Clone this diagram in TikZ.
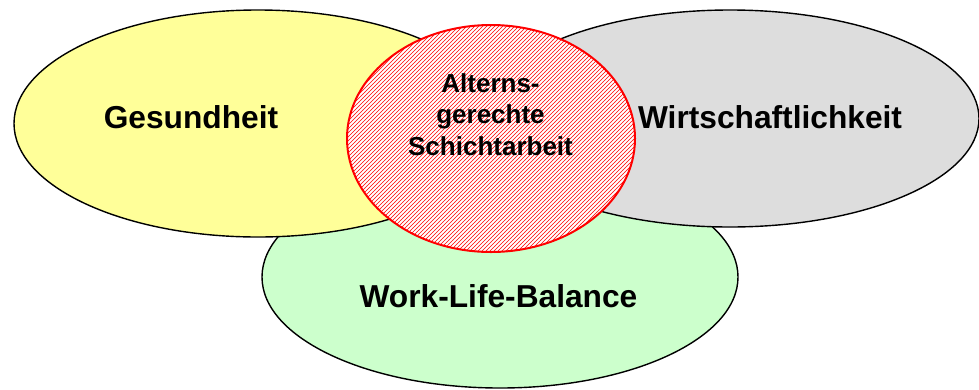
\documentclass[tikz,border=0pt]{standalone}
\usepackage{fontspec}
\setmainfont{Liberation Sans}
\usetikzlibrary{shapes.geometric,patterns.meta}
\definecolor{ellyellow}{HTML}{FFFF99}
\definecolor{ellgray}{HTML}{DDDDDD}
\definecolor{ellgreen}{HTML}{CCFFCC}
\definecolor{hatchred}{HTML}{FF0000}
\begin{document}
\begin{tikzpicture}[x=1pt,y=-1pt,
  setell/.style={ellipse, draw=black, line width=1.4pt, inner sep=0pt, outer sep=0pt},
  coreell/.style={ellipse, draw=hatchred, line width=2pt, inner sep=0pt, outer sep=0pt,
    preaction={fill=white},
    pattern={Lines[angle=45,distance=2.8284pt,line width=0.7pt]}, pattern color=hatchred},
  biglabel/.style={font=\fontsize{31.7}{38}\selectfont\bfseries, inner sep=0pt, anchor=base},
  smalllabel/.style={font=\fontsize{26}{31.5}\selectfont\bfseries, inner sep=0pt, anchor=base}
]
\useasboundingbox (0,0) rectangle (979,389);
% ellipses
\node[setell, fill=ellgreen, minimum width=476pt, minimum height=222pt] (wlb) at (500,277) {};
\node[setell, fill=ellyellow, minimum width=488pt, minimum height=227pt] (ges) at (258,123.5) {};
\node[setell, fill=ellgray, minimum width=498pt, minimum height=217pt] (wir) at (730,118.5) {};
\node[coreell, minimum width=288pt, minimum height=227pt] (core) at (491,138.5) {};
% labels
\node[biglabel] (tges) at (191,128) {Gesundheit};
\node[biglabel] (twir) at (770,128) {Wirtschaftlichkeit};
\node[biglabel] (twlb) at (498.5,307) {Work-Life-Balance};
\node[smalllabel] (tc1) at (490.5,92) {Alterns-};
\node[smalllabel] (tc2) at (490.5,123.5) {gerechte};
\node[smalllabel] (tc3) at (490.5,155) {Schichtarbeit};
\end{tikzpicture}
\end{document}
